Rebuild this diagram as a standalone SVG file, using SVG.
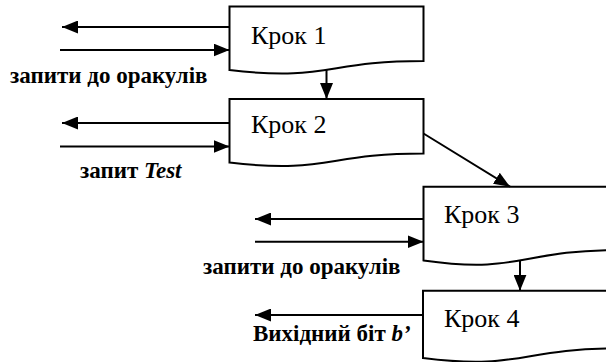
<svg xmlns="http://www.w3.org/2000/svg" width="606" height="362" viewBox="0 0 606 362">
<defs>
<marker id="ah" markerUnits="userSpaceOnUse" markerWidth="16" markerHeight="13" refX="16" refY="6.5" orient="auto">
<path d="M0,0 L16,6.5 L0,13 Z" fill="#000"/>
</marker>
</defs>
<rect width="606" height="362" fill="#fff"/>
<g id="step1">
<path fill="#fff" stroke="#000" stroke-width="2" d="M229.5,6.5 H423.5 V61 C326.5,61 326.5,81.7 229.5,70 Z"/>
<text font-family="Liberation Serif" style="font-family:'Liberation Serif','Times New Roman',serif !important;font-size:26px;font-weight:normal" x="251" y="43.5">Крок 1</text>
</g>
<g id="step2">
<path fill="#fff" stroke="#000" stroke-width="2" d="M229.5,99 H423.5 V153.5 C326.5,153.5 326.5,174.2 229.5,162.5 Z"/>
<text font-family="Liberation Serif" style="font-family:'Liberation Serif','Times New Roman',serif !important;font-size:26px;font-weight:normal" x="251" y="133">Крок 2</text>
</g>
<g id="step3">
<path fill="#fff" stroke="#000" stroke-width="2" d="M423.5,186.7 H617.5 V250.1 C520.5,250.1 520.5,274.2 423.5,260.5 Z"/>
<text font-family="Liberation Serif" style="font-family:'Liberation Serif','Times New Roman',serif !important;font-size:26px;font-weight:normal" x="444" y="223">Крок 3</text>
</g>
<g id="step4">
<path fill="#fff" stroke="#000" stroke-width="2" d="M423,290.7 H617 V348.5 C520,348.5 520,370.5 423,358 Z"/>
<text font-family="Liberation Serif" style="font-family:'Liberation Serif','Times New Roman',serif !important;font-size:26px;font-weight:normal" x="444" y="327">Крок 4</text>
</g>
<g id="connectors" stroke="#000" stroke-width="2" marker-end="url(#ah)">
<line x1="229.5" y1="27" x2="62" y2="27"/>
<line x1="60" y1="50" x2="229.5" y2="50"/>
<line x1="326.5" y1="70" x2="326.5" y2="99"/>
<line x1="229.5" y1="123" x2="62" y2="123"/>
<line x1="60" y1="146.5" x2="229.5" y2="146.5"/>
<line x1="423.5" y1="133.5" x2="510" y2="186.7"/>
<line x1="423.5" y1="219" x2="255" y2="219"/>
<line x1="255" y1="241.7" x2="423.5" y2="241.7"/>
<line x1="520" y1="260.4" x2="520" y2="290.7"/>
<line x1="423" y1="315" x2="255" y2="315"/>
</g>
<g id="labels" font-family="Liberation Serif" font-size="23" font-weight="bold">
<text style="font-family:'Liberation Serif','Times New Roman',serif !important;font-size:23px;font-weight:bold" x="10" y="82.5">запити до оракулів</text>
<text style="font-family:'Liberation Serif','Times New Roman',serif !important;font-size:23px;font-weight:bold" x="80" y="178">запит <tspan style="font-family:'Liberation Serif','Times New Roman',serif !important;font-style:italic">Test</tspan></text>
<text style="font-family:'Liberation Serif','Times New Roman',serif !important;font-size:23px;font-weight:bold" x="203" y="274">запити до оракулів</text>
<text style="font-family:'Liberation Serif','Times New Roman',serif !important;font-size:23px;font-weight:bold" x="253" y="340.5">Вихідний біт <tspan style="font-family:'Liberation Serif','Times New Roman',serif !important;font-style:italic">b’</tspan></text>
</g>
</svg>
